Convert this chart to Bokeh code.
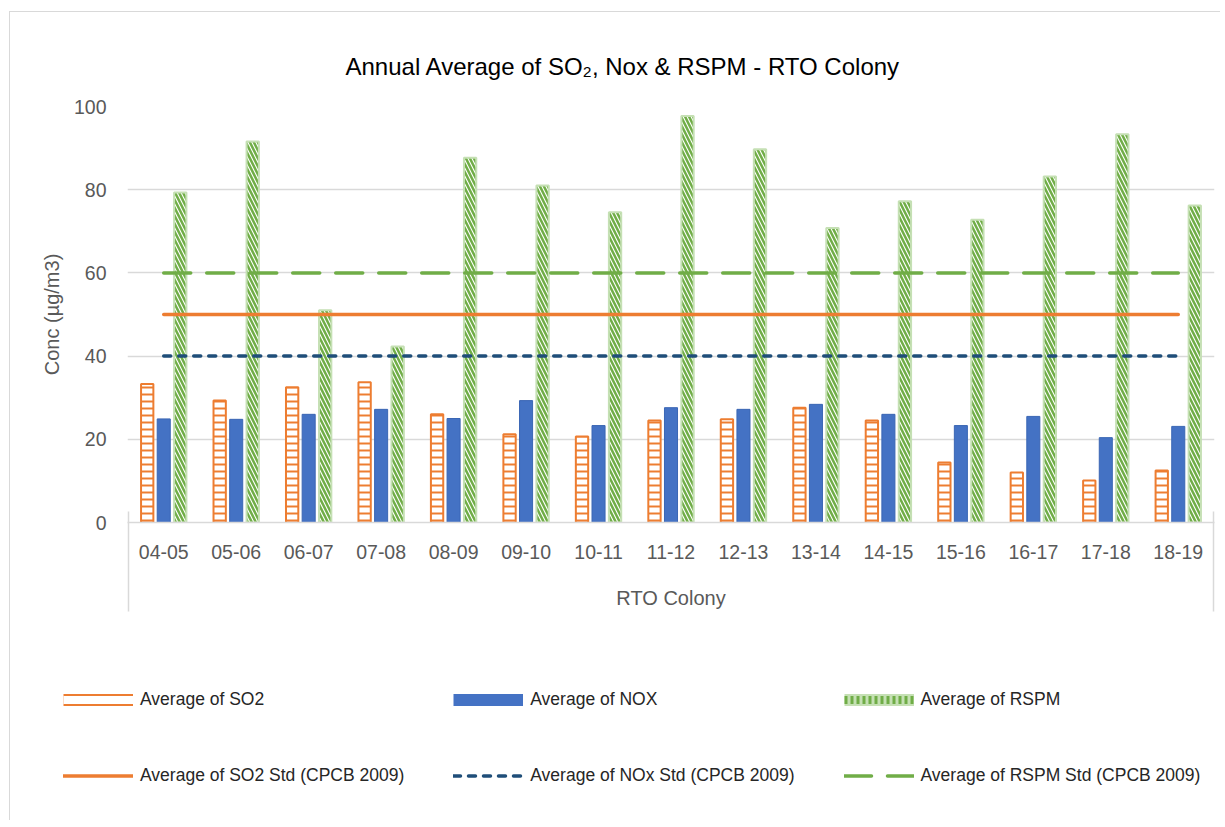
from bokeh.plotting import figure
from bokeh.layouts import column
from bokeh.models import (FactorRange, Legend, LegendItem, FixedTicker, ColumnDataSource,
                          Range1d, CategoricalAxis)
from bokeh.transform import dodge
from bokeh.embed import file_html
from bokeh.resources import INLINE

# ---- data ----
years = ["04-05", "05-06", "06-07", "07-08", "08-09", "09-10", "10-11", "11-12",
         "12-13", "13-14", "14-15", "15-16", "16-17", "17-18", "18-19"]
so2 = [33.3, 29.3, 32.5, 33.7, 26.0, 21.2, 20.7, 24.5, 24.8, 27.6, 24.5, 14.4, 12.0, 10.1, 12.5]
nox = [24.9, 24.8, 26.0, 27.2, 25.0, 29.3, 23.3, 27.6, 27.2, 28.4, 26.0, 23.3, 25.5, 20.4, 23.1]
rspm = [79.3, 91.6, 51.0, 42.3, 87.7, 81.0, 74.6, 97.7, 89.7, 70.8, 77.2, 72.8, 83.2, 93.3, 76.2]
so2_std = 50
nox_std = 40
rspm_std = 60
y_ticks = [0, 20, 40, 60, 80, 100]

FONT = "Liberation Sans"
GRID = "#d9d9d9"

src = ColumnDataSource(dict(year=years, so2=so2, nox=nox, rspm=rspm,
                            so2s=[so2_std] * len(years),
                            noxs=[nox_std] * len(years),
                            rspms=[rspm_std] * len(years)))

p = figure(x_range=FactorRange(*years), y_range=(0, 100),
           width=1210, height=608, output_backend="svg", toolbar_location=None,
           min_border_left=117, min_border_right=6, min_border_top=94,
           min_border_bottom=98)

# title
p.title.text = "Annual Average of SO₂, Nox & RSPM - RTO Colony"
p.title.align = "left"
p.title.vertical_align = "top"
p.title.offset = 218
p.title.standoff = 49
p.title.text_font = FONT
p.title.text_font_size = "24px"
p.title.text_font_style = "normal"
p.title.text_color = "#000000"

# bars
p.vbar(x=dodge("year", -0.228, range=p.x_range), top="so2", width=0.17, source=src,
       fill_color="white", line_color="#ED7D31", line_width=2,
       hatch_pattern="horizontal_line", hatch_color="#ED7D31", hatch_scale=7, hatch_weight=2)
p.vbar(x=dodge("year", 0.0, range=p.x_range), top="nox", width=0.18, source=src,
       fill_color="#4472C4", line_color="#3A66B4", line_width=1)
p.vbar(x=dodge("year", 0.228, range=p.x_range), top="rspm", width=0.17, source=src,
       fill_color="white", line_color="#C5E0B4", line_width=2,
       hatch_pattern="left_diagonal_line", hatch_color="#70AD47", hatch_scale=8, hatch_weight=2.5)

# standard lines
STD_STYLES = [
    dict(line_color="#ED7D31", line_width=3.5, line_cap="round"),
    dict(line_color="#1F4E79", line_width=3.5, line_dash="7 8", line_cap="round"),
    dict(line_color="#70AD47", line_width=3.5, line_dash="27 16", line_cap="round"),
]
p.line(x="year", y="so2s", source=src, **STD_STYLES[0])
p.line(x="year", y="noxs", source=src, **STD_STYLES[1])
p.line(x="year", y="rspms", source=src, **STD_STYLES[2])

# axes
p.xaxis.axis_line_color = GRID
p.xaxis.axis_line_width = 1.5
p.xaxis.major_tick_line_color = None
p.xaxis.minor_tick_line_color = None
p.xaxis.major_label_text_font = FONT
p.xaxis.major_label_text_font_size = "19.5px"
p.xaxis.major_label_text_color = "#595959"
p.xaxis.major_label_standoff = 16
p.xaxis.axis_label = "RTO Colony"
p.xaxis.axis_label_text_font = FONT
p.xaxis.axis_label_text_font_size = "20px"
p.xaxis.axis_label_text_font_style = "normal"
p.xaxis.axis_label_text_color = "#595959"
p.xaxis.axis_label_standoff = 25

p.yaxis.ticker = FixedTicker(ticks=y_ticks)
p.yaxis.axis_line_color = None
p.yaxis.major_tick_line_color = None
p.yaxis.minor_tick_line_color = None
p.yaxis.major_label_text_font = FONT
p.yaxis.major_label_text_font_size = "19.5px"
p.yaxis.major_label_text_color = "#595959"
p.yaxis.major_label_standoff = 15
p.yaxis.axis_label = "Conc (µg/m3)"
p.yaxis.axis_label_text_font = FONT
p.yaxis.axis_label_text_font_size = "20px"
p.yaxis.axis_label_text_font_style = "normal"
p.yaxis.axis_label_text_color = "#595959"
p.yaxis.axis_label_standoff = 8

p.xgrid.visible = False
p.ygrid.grid_line_color = GRID
p.ygrid.grid_line_width = 1.5
p.outline_line_color = None

# category-axis box edges: a second categorical axis whose two ticks sit on the frame edges
p.extra_x_ranges = {"edge": FactorRange(factors=["L", "R"], range_padding=-0.499,
                                        range_padding_units="absolute")}
edge_axis = CategoricalAxis(x_range_name="edge",
                            axis_line_color=None, major_tick_in=100, major_tick_out=0,
                            major_tick_line_color=GRID, major_tick_line_width=1.5,
                            minor_tick_line_color=None, major_label_text_font_size="1px",
                            major_label_text_alpha=0, major_label_standoff=0)
p.add_layout(edge_axis, "below")

# ---- legend figure ----
p2 = figure(width=1210, height=200, output_backend="svg", toolbar_location=None,
            x_range=Range1d(0, 1), y_range=Range1d(0, 1),
            x_axis_location=None, y_axis_location=None, min_border=0)
p2.grid.visible = False
p2.outline_line_color = None
for fig in (p, p2):
    try:
        fig.frame_align = False
    except Exception:
        pass

# legend swatch renderers (their data lie outside the visible range)
ox, oy = [-5, -4], [-5, -5]
s1a = p2.line(x=ox, y=oy, line_color="#ED7D31", line_width=12)
s1b = p2.line(x=ox, y=oy, line_color="white", line_width=8)
s2 = p2.line(x=ox, y=oy, line_color="#4472C4", line_width=12)
s3a = p2.line(x=ox, y=oy, line_color="#C5E0B4", line_width=12)
s3b = p2.line(x=ox, y=oy, line_color="#70AD47", line_width=8, line_dash="3 3")
t1 = p2.line(x=ox, y=oy, **STD_STYLES[0])
t2 = p2.line(x=ox, y=oy, **STD_STYLES[1])
t3 = p2.line(x=ox, y=oy, **STD_STYLES[2])

legend = Legend(items=[
    LegendItem(label="Average of SO2", renderers=[s1a, s1b]),
    LegendItem(label="Average of NOX", renderers=[s2]),
    LegendItem(label="Average of RSPM", renderers=[s3a, s3b]),
    LegendItem(label="Average of SO2 Std (CPCB 2009)", renderers=[t1]),
    LegendItem(label="Average of NOx Std (CPCB 2009)", renderers=[t2]),
    LegendItem(label="Average of RSPM Std (CPCB 2009)", renderers=[t3]),
], location=(53, 31), orientation="horizontal", ncols=3,
    glyph_width=70, glyph_height=27, label_height=27, label_width=200,
    label_standoff=7, spacing=49, padding=0, margin=0,
    border_line_alpha=0, background_fill_alpha=0,
    label_text_font=FONT, label_text_font_size="17.5px", label_text_color="#262626")
p2.add_layout(legend)

layout = column(p, p2, spacing=0, margin=(11, 0, 0, 9),
                styles={"border-left": "1px solid #d9d9d9", "border-top": "1px solid #d9d9d9"})

open("out.html", "w").write(file_html(layout, INLINE))
